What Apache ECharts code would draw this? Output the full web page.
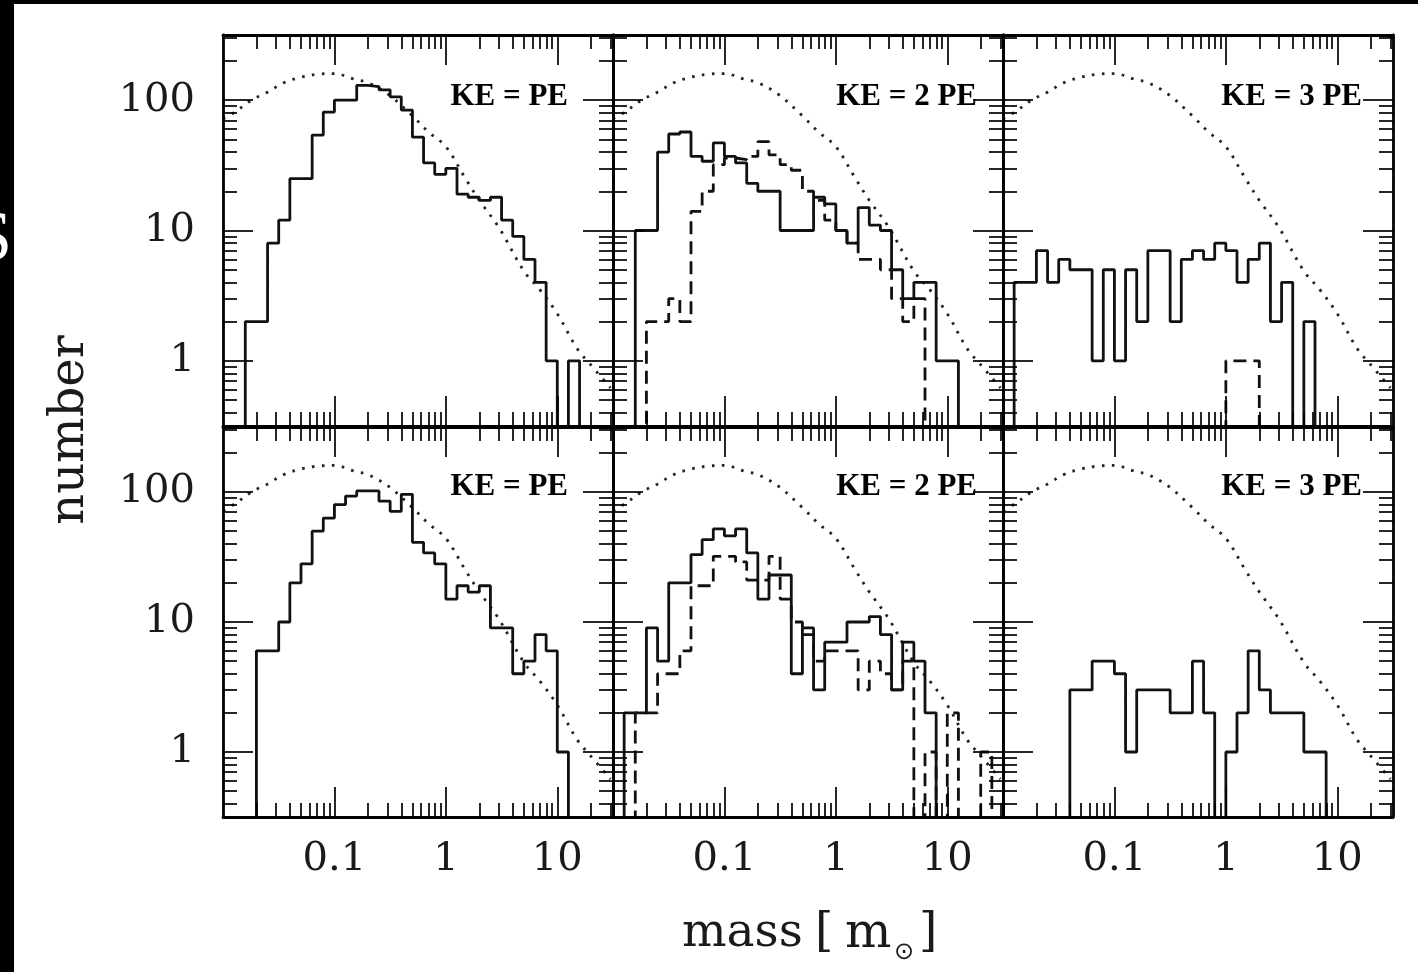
<!DOCTYPE html>
<html>
<head>
<meta charset="utf-8">
<script src="https://cdn.jsdelivr.net/npm/echarts@6/dist/echarts.min.js"></script>
<style>
html,body{margin:0;padding:0;background:#fff;}
#chart{width:1418px;height:972px;}
</style>
</head>
<body>
<div id="chart"></div>
<script>
// ---------------- data ----------------
// histogram bins: log10(mass) from -2.0 in 0.1 dex steps (35 bins up to 10^1.5)
const massBinStartLog = -2.0;
const massBinWidthLog = 0.1;

const xMajorTicks = [0.1, 1, 10];
const xMinorTicks = [0.02,0.03,0.04,0.05,0.06,0.07,0.08,0.09,0.2,0.3,0.4,0.5,0.6,0.7,0.8,0.9,2,3,4,5,6,7,8,9,20,30];
const yMajorTicks = [1, 10, 100];
const yMinorTicks = [0.4,0.5,0.6,0.7,0.8,0.9,2,3,4,5,6,7,8,9,20,30,40,50,60,70,80,90,200,300];

const panelLabels = ['KE = PE', 'KE = 2 PE', 'KE = 3 PE'];
const xAxisTitle = 'mass [m⊙]';
const yAxisTitle = 'number';

// reference IMF curve (dotted)
const imfMass   = [0.01,0.013,0.018,0.025,0.035,0.05,0.07,0.1,0.15,0.2,0.3,0.5,0.7,1,1.5,2,3,5,7,10,15,20,30];
const imfNumber = [72,82,100,115,136,150,158,160,145,136,112,76,57,44,25,17,10.5,4.9,3.5,2.3,1.25,0.93,0.62];

// counts per bin (0 = empty bin)
const topPESolid   = [0,0,2,2,8,12,25,25,54,81,100,100,130,127,120,106,84,52,33,27,30,19,18,17,18,12,9,6,4,1,0,1,0,0,0];
const topPE2Solid  = [0,0,10,10,40,55,57,37,34,47,37,33,23,20,20,10,10,10,18,16,10,8,15,11,10,5,3,4,4,1,1,0,0,0,0];
const topPE2Dashed = [0,0,0,2,2,3,2,14,20,32,36,35,37,48,38,32,29,20,17,12,10,8,6,6,5,3,2,3,0,0,0,0,0,0,0];
const topPE3Solid  = [0,4,4,7,4,6,5,5,1,5,1,5,2,7,7,2,6,7,6,8,7,4,6,8,2,4,0,2,0,0,0,0,0,0,0];
const topPE3Dashed = [0,0,0,0,0,0,0,0,0,0,0,0,0,0,0,0,0,0,0,0,1,1,1,0,0,0,0,0,0,0,0,0,0,0,0];
const botPESolid   = [0,0,0,6,6,10,20,28,50,63,80,93,102,102,85,71,96,41,34,28,15,19,17,19,9,9,4,5,8,6,1,0,0,0,0];
const botPE2Solid  = [0,2,2,9,5,20,20,33,43,52,46,52,34,15,23,23,4,9,3,7,7,10,10,11,8,3,7,5,2,0,0,0,0,0,0];
const botPE2Dashed = [0,0,2,2,4,4,6,19,19,32,32,29,21,21,32,15,10,8,5,6,6,6,3,5,4,3,5,0,1,0,2,0,0,1,0];
const botPE3Solid  = [0,0,0,0,0,0,3,3,5,5,4,1,3,3,3,2,2,5,2,0,1,2,6,3,2,2,2,1,1,0,0,0,0,0,0];

// ---------------- layout ----------------
const COL_LEFT = [223, 613, 1003];
const PANEL_W = 390;
const ROW_TOP = [35, 427];
const ROW_H = [391, 390];
const X_MIN = 0.01, X_MAX = Math.pow(10, 1.5);
const Y_MIN = Math.pow(10, -0.5), Y_MAX = Math.pow(10, 2.5);
const EMPTY_FLOOR = 0.05; // below the axis: empty bins drop to the frame
const TITLE_RIGHT = [568, 977, 1362];
const TITLE_Y = [97, 486.5];

const panels = [
  {row:0, col:0, solid:topPESolid,  dashed:null},
  {row:0, col:1, solid:topPE2Solid, dashed:topPE2Dashed},
  {row:0, col:2, solid:topPE3Solid, dashed:topPE3Dashed},
  {row:1, col:0, solid:botPESolid,  dashed:null},
  {row:1, col:1, solid:botPE2Solid, dashed:botPE2Dashed},
  {row:1, col:2, solid:botPE3Solid, dashed:null}
];

function stepData(counts) {
  const pts = [];
  for (let i = 0; i < counts.length; i++) {
    pts.push([Math.pow(10, massBinStartLog + i * massBinWidthLog), counts[i] > 0 ? counts[i] : EMPTY_FLOOR]);
  }
  pts.push([Math.pow(10, massBinStartLog + counts.length * massBinWidthLog), EMPTY_FLOOR]);
  return pts;
}
const imfData = imfMass.map((m, i) => [m, imfNumber[i]]);

const LABEL_FONT = 'DejaVu Serif';
const fmt = v => String(Math.round(v * 1000) / 1000);

function mkAxis(dim, g, pos, major, showLine, showLabels) {
  const isX = dim === 'x';
  return {
    type: 'log', logBase: 10, gridIndex: g, position: pos,
    min: isX ? X_MIN : Y_MIN, max: isX ? X_MAX : Y_MAX,
    axisLine: {show: showLine, onZero: false, lineStyle: {color: '#000', width: 2.8}},
    axisTick: {show: true, inside: true, length: major ? 30 : 14,
      customValues: major ? (isX ? xMajorTicks : yMajorTicks) : (isX ? xMinorTicks : yMinorTicks),
      lineStyle: {color: '#000', width: 1.7}},
    axisLabel: showLabels ? {show: true, customValues: isX ? xMajorTicks : yMajorTicks,
      margin: isX ? 23 : 28, fontFamily: LABEL_FONT, fontSize: 40, color: '#1a1a1a', formatter: fmt}
      : {show: false},
    splitLine: {show: false}, minorTick: {show: false}, minorSplitLine: {show: false},
    axisPointer: {show: false}, silent: true, z: 5
  };
}

const grids = [], xAxes = [], yAxes = [], series = [], graphics = [];
panels.forEach((p, g) => {
  grids.push({left: COL_LEFT[p.col], top: ROW_TOP[p.row], width: PANEL_W, height: ROW_H[p.row],
    containLabel: false, outerBoundsMode: 'none', show: false});
  const xLab = p.row === 1, yLab = p.col === 0;
  xAxes.push(mkAxis('x', g, 'bottom', false, true, xLab));
  xAxes.push(mkAxis('x', g, 'bottom', true, false, false));
  xAxes.push(mkAxis('x', g, 'top', false, true, false));
  xAxes.push(mkAxis('x', g, 'top', true, false, false));
  yAxes.push(mkAxis('y', g, 'left', false, true, yLab));
  yAxes.push(mkAxis('y', g, 'left', true, false, false));
  yAxes.push(mkAxis('y', g, 'right', false, true, false));
  yAxes.push(mkAxis('y', g, 'right', true, false, false));
  const ax = {xAxisIndex: 4 * g, yAxisIndex: 4 * g};
  series.push(Object.assign({type: 'line', name: 'IMF', data: imfData, smooth: 0.35, symbol: 'none',
    clip: true, silent: true, lineStyle: {color: '#222', width: 2.8, type: [2.6, 7.4], cap: 'butt'}, z: 2}, ax));
  if (p.dashed) {
    series.push(Object.assign({type: 'line', name: 'dashed', data: stepData(p.dashed), step: 'end', symbol: 'none',
      clip: true, silent: true, lineStyle: {color: '#111', width: 2.8, type: [13, 7]}, z: 3}, ax));
  }
  series.push(Object.assign({type: 'line', name: 'solid', data: stepData(p.solid), step: 'end', symbol: 'none',
    clip: true, silent: true, lineStyle: {color: '#111', width: 2.8}, z: 4}, ax));
  graphics.push({type: 'text', x: TITLE_RIGHT[p.col], y: TITLE_Y[p.row], z: 50,
    style: {text: panelLabels[p.col], font: 'bold 31px "Liberation Serif"', fill: '#000',
      textAlign: 'right', textVerticalAlign: 'middle', verticalAlign: 'middle'}});
});

// axis titles
graphics.push({type: 'text', x: 71, y: 430, rotation: Math.PI / 2, z: 50,
  style: {text: yAxisTitle, font: '48px "DejaVu Serif"', fill: '#1a1a1a',
    textAlign: 'center', textVerticalAlign: 'middle', verticalAlign: 'middle'}});
const xt = xAxisTitle;
const tf = '47px "DejaVu Serif"';
graphics.push({type: 'text', x: 682, y: 934, z: 50,
  style: {text: xt.slice(0, 4), font: tf, fill: '#1a1a1a', textAlign: 'left', textVerticalAlign: 'middle', verticalAlign: 'middle'}});
graphics.push({type: 'text', x: 815, y: 934, z: 50,
  style: {text: xt.slice(5, 6), font: tf, fill: '#1a1a1a', textAlign: 'left', textVerticalAlign: 'middle', verticalAlign: 'middle'}});
graphics.push({type: 'text', x: 845, y: 934, z: 50,
  style: {text: xt.slice(6, 7), font: '49px "DejaVu Serif"', fill: '#1a1a1a', textAlign: 'left', textVerticalAlign: 'middle', verticalAlign: 'middle'}});
graphics.push({type: 'text', x: 904, y: 953, z: 50,
  style: {text: xt.slice(7, 8), font: '24px "DejaVu Sans"', fill: '#1a1a1a', textAlign: 'center', textVerticalAlign: 'middle', verticalAlign: 'middle'}});
graphics.push({type: 'text', x: 919, y: 934, z: 50,
  style: {text: xt.slice(8, 9), font: tf, fill: '#1a1a1a', textAlign: 'left', textVerticalAlign: 'middle', verticalAlign: 'middle'}});

// black border strips of the scanned figure and the clipped letter
graphics.push({type: 'rect', shape: {x: 0, y: 0, width: 14, height: 972}, style: {fill: '#000'}, z: 60});
graphics.push({type: 'rect', shape: {x: 0, y: 0, width: 1418, height: 4}, style: {fill: '#000'}, z: 60});
graphics.push({type: 'text', x: 12, y: 241, z: 61,
  style: {text: 'S', font: '72px "Liberation Serif"', fill: '#fff', textAlign: 'right', textVerticalAlign: 'middle', verticalAlign: 'middle'}});

const chart = echarts.init(document.getElementById('chart'), null, {renderer: 'canvas'});
chart.setOption({
  animation: false,
  backgroundColor: '#fff',
  textStyle: {fontFamily: LABEL_FONT},
  grid: grids,
  xAxis: xAxes,
  yAxis: yAxes,
  series: series,
  graphic: graphics
});
</script>
</body>
</html>
